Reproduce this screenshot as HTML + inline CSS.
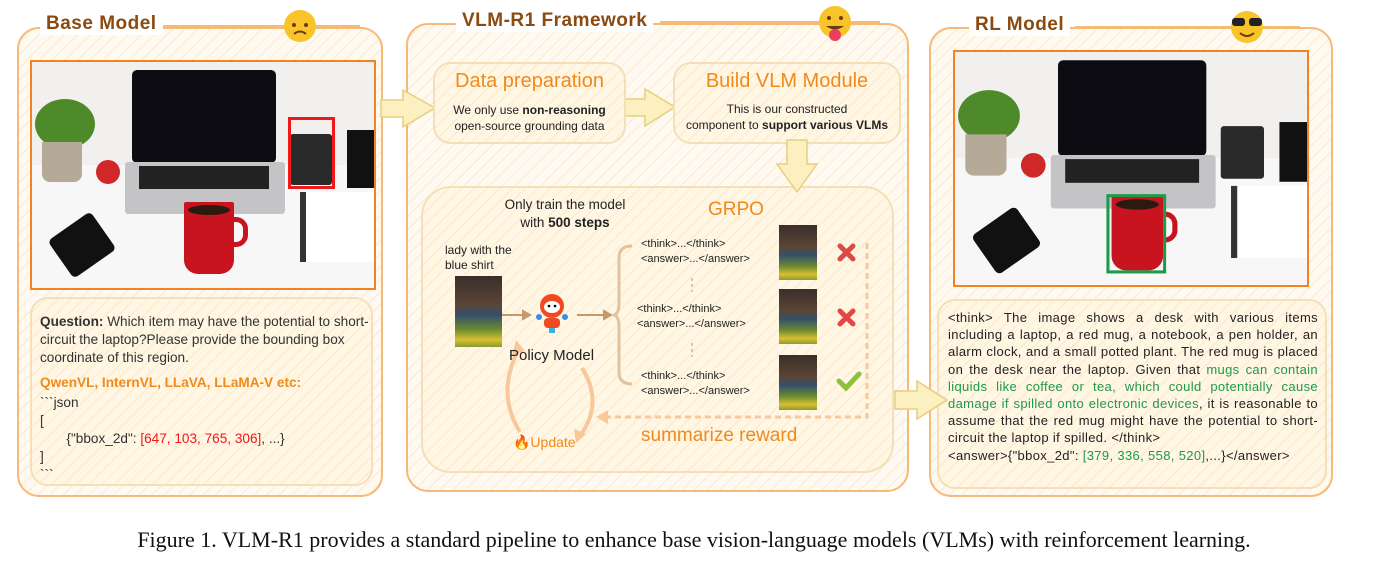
<!DOCTYPE html>
<html><head><meta charset="utf-8">
<style>
*{margin:0;padding:0;box-sizing:border-box}
body{width:1388px;height:572px;background:#fff;position:relative;overflow:hidden;font-family:"Liberation Sans",sans-serif;color:#222}
.a{position:absolute}
.hatch{background-color:#fffaf1;background-image:repeating-linear-gradient(135deg,rgba(250,200,140,.35) 0 1px,transparent 1px 9px)}
.panel{border:2px solid #f7b978;border-radius:22px}
.inner{border:2px solid #f3e0b8;border-radius:18px;background-color:#fff6e4;background-image:repeating-linear-gradient(135deg,rgba(250,200,140,.3) 0 1px,transparent 1px 9px)}
.title{font-weight:bold;color:#8a4a10;font-size:19px;background:#fff;padding:0 6px;letter-spacing:.5px}
.photo{border:2px solid #f58220;overflow:hidden;background:#f1f0ee}
.photo div{position:absolute}
.t13{font-size:13.6px;line-height:18px}
.mini{position:absolute;width:38px;height:55px;background:linear-gradient(#3a2e28 0,#5a4636 40%,#35506c 55%,#6a8a30 75%,#d8c030 90%,#8a9a30 100%)}
</style></head><body>

<div class="a panel hatch" style="left:17px;top:27px;width:366px;height:470px"></div>
<div class="a panel hatch" style="left:406px;top:23px;width:503px;height:469px"></div>
<div class="a panel hatch" style="left:929px;top:27px;width:404px;height:470px"></div>

<svg class="a" style="left:0;top:0" width="1388" height="572">
 <g stroke="#f7b978" stroke-width="2">
  <line x1="160" y1="26" x2="360" y2="26"/>
  <line x1="660" y1="22" x2="880" y2="22"/>
  <line x1="1075" y1="27" x2="1300" y2="27"/>
 </g>
 <circle cx="300" cy="26" r="16" fill="#f9c42a"/><circle cx="294" cy="25" r="2" fill="#6a3a10"/><circle cx="306" cy="25" r="2" fill="#6a3a10"/><path d="M294 34 q6 -5 12 0" stroke="#6a3a10" stroke-width="2" fill="none"/>
 <circle cx="835" cy="22" r="16" fill="#f9c42a"/><circle cx="829" cy="18" r="2" fill="#6a3a10"/><circle cx="841" cy="18" r="2" fill="#6a3a10"/><path d="M826 26 q9 7 18 0z" fill="#6a3a10"/><circle cx="835" cy="35" r="6" fill="#e8405a"/>
 <circle cx="1247" cy="27" r="16" fill="#f9c42a"/><rect x="1232" y="18" width="13" height="8" rx="3" fill="#222"/><rect x="1249" y="18" width="13" height="8" rx="3" fill="#222"/><path d="M1240 33 q7 6 14 0" stroke="#6a3a10" stroke-width="2" fill="none"/>
 <g fill="#fcefc0" stroke="#e6cf7e" stroke-width="1.5">
  <path d="M381 100 h22 v-10 l32 18 l-32 19 v-10 h-22z"/>
  <path d="M623 99 h22 v-10 l30 18 l-30 19 v-10 h-22z"/>
 </g>
</svg>

<div class="a title" style="left:40px;top:13px">Base Model</div>
<div class="a title" style="left:456px;top:10px">VLM-R1 Framework</div>
<div class="a title" style="left:969px;top:14px">RL Model</div>

<div class="a photo" style="left:30px;top:60px;width:346px;height:230px">
 <div style="left:0;top:103px;width:346px;height:127px;background:#f7f7f7"></div>
 <div style="left:100px;top:8px;width:144px;height:93px;background:#0c0c12;border-radius:5px"></div>
 <div style="left:93px;top:100px;width:160px;height:52px;background:#c4c4c6;border-radius:3px"></div>
 <div style="left:107px;top:104px;width:130px;height:23px;background:#222"></div>
 <div style="left:3px;top:37px;width:60px;height:50px;background:#4f8a2a;border-radius:50%"></div>
 <div style="left:10px;top:80px;width:40px;height:40px;background:#b5aa98;border-radius:0 0 8px 8px"></div>
 <div style="left:64px;top:98px;width:24px;height:24px;background:#d02828;border-radius:50%"></div>
 <div style="left:24px;top:160px;width:52px;height:46px;background:#111;border-radius:5px;transform:rotate(-35deg)"></div>
 <div style="left:268px;top:130px;width:78px;height:70px;background:#fff;border-left:6px solid #333"></div>
 <div style="left:258px;top:72px;width:42px;height:51px;background:#2a2a2a;border-radius:3px"></div>
 <div style="left:315px;top:68px;width:30px;height:58px;background:#111"></div>
 <div style="left:152px;top:140px;width:50px;height:72px;background:#c8141e;border-radius:2px 2px 14px 14px"></div>
 <div style="left:156px;top:143px;width:42px;height:10px;background:#2a1a10;border-radius:50%"></div>
 <div style="left:196px;top:155px;width:20px;height:30px;border:5px solid #c8141e;border-radius:0 12px 12px 0"></div>
 <div style="left:256px;top:55px;width:47px;height:72px;border:3px solid #f01818"></div>
</div>

<div class="a photo" style="left:953px;top:50px;width:356px;height:237px">
 <div style="transform:scale(1.03);transform-origin:0 0;left:0;top:0;width:346px;height:230px">
 <div style="left:0;top:103px;width:346px;height:127px;background:#f7f7f7"></div>
 <div style="left:100px;top:8px;width:144px;height:93px;background:#0c0c12;border-radius:5px"></div>
 <div style="left:93px;top:100px;width:160px;height:52px;background:#c4c4c6;border-radius:3px"></div>
 <div style="left:107px;top:104px;width:130px;height:23px;background:#222"></div>
 <div style="left:3px;top:37px;width:60px;height:50px;background:#4f8a2a;border-radius:50%"></div>
 <div style="left:10px;top:80px;width:40px;height:40px;background:#b5aa98;border-radius:0 0 8px 8px"></div>
 <div style="left:64px;top:98px;width:24px;height:24px;background:#d02828;border-radius:50%"></div>
 <div style="left:24px;top:160px;width:52px;height:46px;background:#111;border-radius:5px;transform:rotate(-35deg)"></div>
 <div style="left:268px;top:130px;width:78px;height:70px;background:#fff;border-left:6px solid #333"></div>
 <div style="left:258px;top:72px;width:42px;height:51px;background:#2a2a2a;border-radius:3px"></div>
 <div style="left:315px;top:68px;width:30px;height:58px;background:#111"></div>
 <div style="left:152px;top:140px;width:50px;height:72px;background:#c8141e;border-radius:2px 2px 14px 14px"></div>
 <div style="left:156px;top:143px;width:42px;height:10px;background:#2a1a10;border-radius:50%"></div>
 <div style="left:196px;top:155px;width:20px;height:30px;border:5px solid #c8141e;border-radius:0 12px 12px 0"></div>
 <div style="left:147px;top:138px;width:58px;height:77px;border:3px solid #1e9a4a"></div>
 </div>
</div>

<div class="a inner" style="left:30px;top:297px;width:343px;height:189px"></div>
<div class="a t13" style="left:40px;top:313px;width:330px;color:#333"><b>Question:</b> Which item may have the potential to short-circuit the laptop?Please provide the bounding box coordinate of this region.</div>
<div class="a t13" style="left:40px;top:374px;color:#f08a1c;font-weight:bold">QwenVL, InternVL, LLaVA, LLaMA-V etc:</div>
<div class="a t13" style="left:40px;top:394px;color:#333">&#96;&#96;&#96;json<br>[<br>&nbsp;&nbsp;&nbsp;&nbsp;&nbsp;&nbsp;&nbsp;{"bbox_2d": <span style="color:#f01818">[647, 103, 765, 306]</span>, ...}<br>]<br>&#96;&#96;&#96;</div>

<div class="a inner" style="left:433px;top:62px;width:193px;height:82px"></div>
<div class="a inner" style="left:673px;top:62px;width:228px;height:82px"></div>
<div class="a" style="left:433px;top:70px;width:193px;text-align:center;font-size:20px;color:#f08a1c">Data preparation</div>
<div class="a" style="left:433px;top:102px;width:193px;text-align:center;font-size:12px;line-height:16px">We only use <b>non-reasoning</b><br>open-source grounding data</div>
<div class="a" style="left:673px;top:70px;width:228px;text-align:center;font-size:20px;color:#f08a1c">Build VLM Module</div>
<div class="a" style="left:673px;top:101px;width:228px;text-align:center;font-size:12px;line-height:16px">This is our constructed<br>component to <b>support various VLMs</b></div>

<div class="a inner" style="left:421px;top:186px;width:473px;height:287px;border-radius:30px"></div>
<svg class="a" style="left:0;top:0" width="1388" height="572">
 <path d="M787 140 h20 v24 h10 l-20 28 l-20 -28 h10z" fill="#fcefc0" stroke="#e6cf7e" stroke-width="1.5"/>
 <g stroke="#c49a6c" stroke-width="2" fill="#c49a6c">
  <line x1="502" y1="315" x2="525" y2="315"/><path d="M530 315 l-7 -4 v8z"/>
  <line x1="577" y1="315" x2="606" y2="315"/><path d="M611 315 l-7 -4 v8z"/>
 </g>
 <path d="M632 246 q-13 0 -13 12 v45 q0 12 -6 12 q6 0 6 12 v45 q0 12 13 12" stroke="#e3c39e" stroke-width="3" fill="none"/>
 <g stroke="#d8b48a" stroke-width="1.5" stroke-dasharray="3 3"><line x1="692" y1="278" x2="692" y2="292"/><line x1="692" y1="343" x2="692" y2="357"/></g>
 <g stroke="#e04848" stroke-width="5" stroke-linecap="round"><path d="M840 246 l13 13 M853 246 l-13 13"/><path d="M840 311 l13 13 M853 311 l-13 13"/></g>
 <path d="M839 381 l7 7 l13 -14" stroke="#8cc13a" stroke-width="5" fill="none" stroke-linecap="round"/>
 <g stroke="#f9c89a" stroke-width="3" stroke-dasharray="6 4" fill="none"><path d="M867 243 V417 H605"/></g>
 <path d="M596 417 l12 -7 v14z" fill="#f9c89a"/>
 <path d="M520 432 q-25 -40 0 -85" stroke="#f9c89a" stroke-width="4" fill="none"/><path d="M516 340 l-4 15 l13 -4z" fill="#f9c89a"/>
 <path d="M582 368 q22 35 -2 68" stroke="#f9c89a" stroke-width="4" fill="none"/><path d="M576 443 l-2 -14 l12 5z" fill="#f9c89a"/>
 <circle cx="552" cy="306" r="12" fill="#f04a24"/><ellipse cx="552" cy="307" rx="8" ry="6" fill="#fff"/><circle cx="549" cy="306" r="1.3"/><circle cx="555" cy="306" r="1.3"/>
 <rect x="544" y="318" width="16" height="10" rx="4" fill="#f04a24"/><rect x="549" y="328" width="6" height="5" fill="#3ab0e8"/>
 <circle cx="539" cy="317" r="3" fill="#3a8ee8"/><circle cx="565" cy="317" r="3" fill="#3a8ee8"/>
</svg>
<div class="a" style="left:480px;top:196px;width:170px;text-align:center;font-size:13.5px;line-height:18px">Only train the model<br>with <b>500 steps</b></div>
<div class="a" style="left:708px;top:199px;font-size:19px;color:#f08a1c">GRPO</div>
<div class="a" style="left:445px;top:243px;font-size:12px;line-height:15px">lady with the<br>blue shirt</div>
<div class="mini" style="left:455px;top:276px;width:47px;height:71px"></div>
<div class="a" style="left:509px;top:347px;font-size:15px">Policy Model</div>
<div class="a" style="left:513px;top:434px;font-size:14px;color:#f08a1c">🔥Update</div>
<div class="a" style="left:641px;top:237px;font-size:11px;line-height:15px">&lt;think&gt;...&lt;/think&gt;<br>&lt;answer&gt;...&lt;/answer&gt;</div>
<div class="a" style="left:637px;top:302px;font-size:11px;line-height:15px">&lt;think&gt;...&lt;/think&gt;<br>&lt;answer&gt;...&lt;/answer&gt;</div>
<div class="a" style="left:641px;top:369px;font-size:11px;line-height:15px">&lt;think&gt;...&lt;/think&gt;<br>&lt;answer&gt;...&lt;/answer&gt;</div>
<div class="mini" style="left:779px;top:225px"></div>
<div class="mini" style="left:779px;top:289px"></div>
<div class="mini" style="left:779px;top:355px"></div>
<div class="a" style="left:641px;top:425px;font-size:19px;color:#f08a1c">summarize reward</div>

<div class="a inner" style="left:937px;top:299px;width:390px;height:190px"></div>
<div class="a" style="left:948px;top:309px;width:370px;font-size:13px;letter-spacing:.35px;line-height:17.2px;text-align:justify;color:#222">&lt;think&gt; The image shows a desk with various items including a laptop, a red mug, a notebook, a pen holder, an alarm clock, and a small potted plant. The red mug is placed on the desk near the laptop. Given that <span style="color:#1e9a4a">mugs can contain liquids like coffee or tea, which could potentially cause damage if spilled onto electronic devices</span>, it is reasonable to assume that the red mug might have the potential to short-circuit the laptop if spilled. &lt;/think&gt;<br>&lt;answer&gt;{"bbox_2d": <span style="color:#1e9a4a">[379, 336, 558, 520]</span>,...}&lt;/answer&gt;</div>
<svg class="a" style="left:0;top:0" width="1388" height="572"><path d="M895 391 h22 v-10 l30 19 l-30 19 v-10 h-22z" fill="#fcefc0" stroke="#e6cf7e" stroke-width="1.5"/></svg>

<div class="a" style="left:0;top:527px;width:1388px;text-align:center;font-family:'Liberation Serif',serif;font-size:22px;color:#111">Figure 1. VLM-R1 provides a standard pipeline to enhance base vision-language models (VLMs) with reinforcement learning.</div>
</body></html>
